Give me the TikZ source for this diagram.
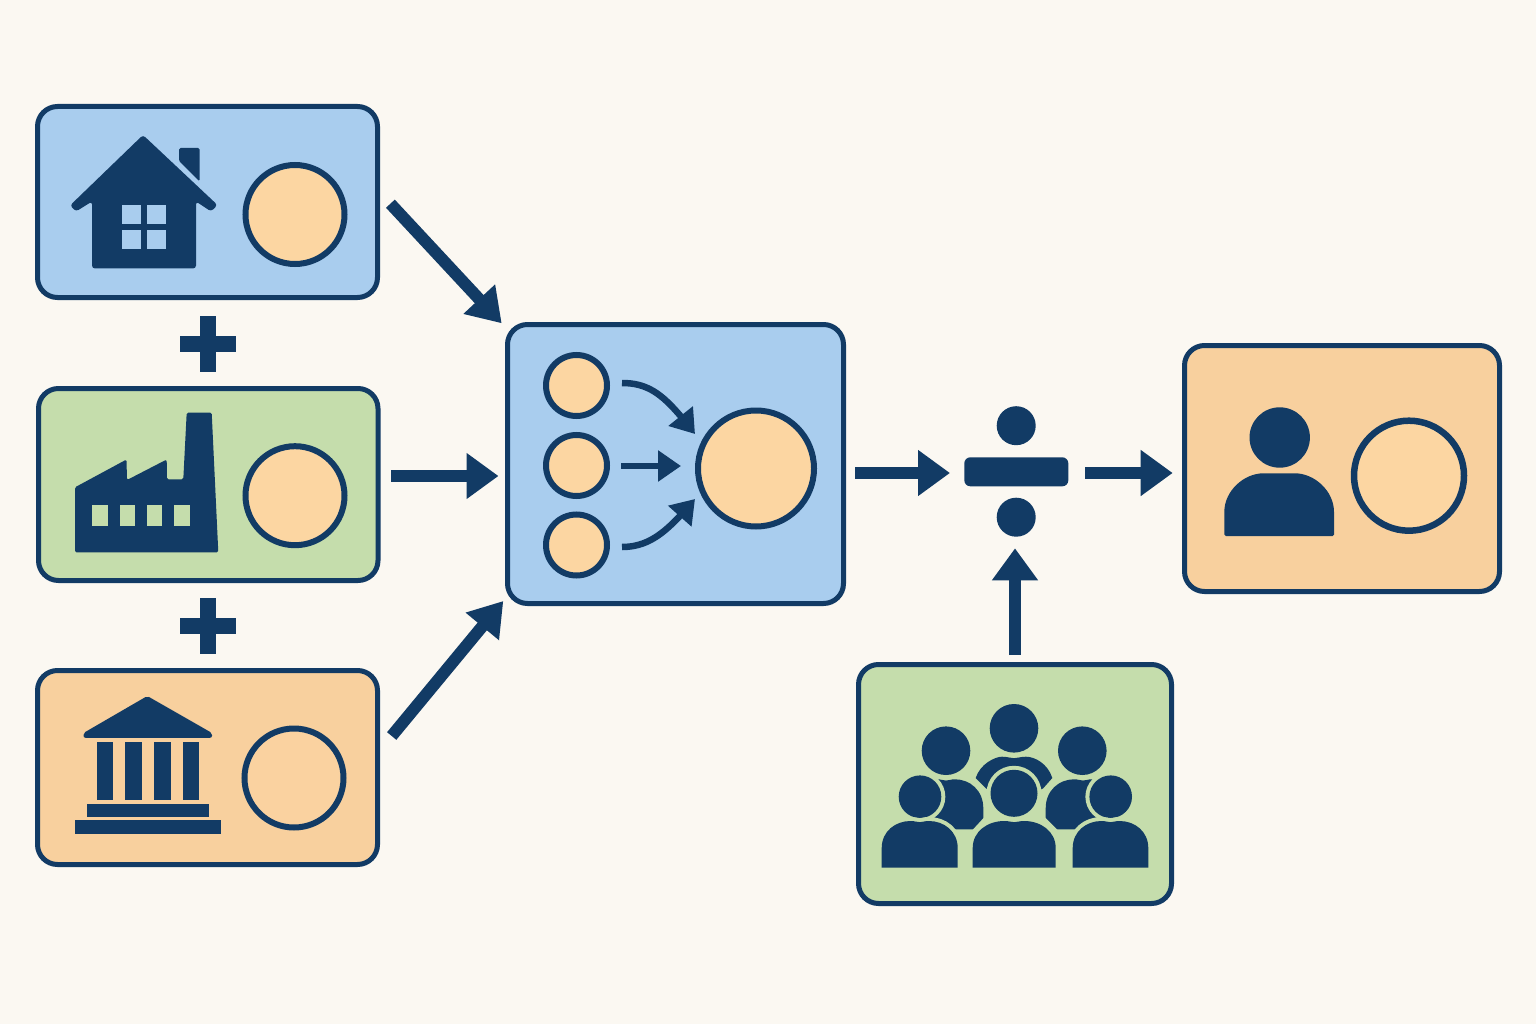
\documentclass[tikz,border=0pt]{standalone}
\usetikzlibrary{arrows.meta,bending}
\definecolor{bgc}{HTML}{FBF8F2}
\definecolor{navy}{HTML}{123B65}
\definecolor{bluec}{HTML}{A9CDEE}
\definecolor{greenc}{HTML}{C5DDAC}
\definecolor{orangec}{HTML}{F8D09E}
\definecolor{discc}{HTML}{FCD6A2}
\tikzset{
  panel/.style={draw=navy,line width=5pt,rounded corners=20pt,inner sep=0pt,outer sep=0pt},
  disc/.style={circle,draw=navy,line width=6pt,fill=discc,inner sep=0pt,outer sep=0pt},
  dotnode/.style={circle,fill=navy,inner sep=0pt,outer sep=0pt},
  bigarrow/.style={draw=navy,line width=12.5pt,-{Triangle[length=32pt,width=44pt]}},
  diagarrow/.style={draw=navy,line width=12pt,-{Triangle[length=33pt,width=41pt]}},
  smallarrow/.style={draw=navy,line width=6.5pt,-{Triangle[length=23pt,width=30pt,flex=1]}},
  icon/.style={fill=navy,draw=none},
  halo/.style={fill=navy,preaction={draw=greenc,line width=8pt}}
}
\newcommand{\bodyshape}{(0,1) -- (0,.58) .. controls (0,.22) and (.18,0) .. (.38,0) .. controls (.44,0) and (.46,.025) .. (.5,.025) .. controls (.54,.025) and (.56,0) .. (.62,0) .. controls (.82,0) and (1,.22) .. (1,.58) -- (1,1) -- cycle}
\begin{document}
\begin{tikzpicture}[x=1pt,y=-1pt]
\useasboundingbox (0,0) rectangle (1536,1024);
\fill[bgc] (0,0) rectangle (1536,1024);

% panels
\node[panel,fill=bluec,minimum width=340pt,minimum height=191pt] (boxH) at (207.5,202) {};
\node[panel,fill=greenc,minimum width=339.5pt,minimum height=192pt] (boxF) at (208.25,484.5) {};
\node[panel,fill=orangec,minimum width=340pt,minimum height=194pt] (boxB) at (207.5,767.5) {};
\node[panel,fill=bluec,minimum width=336pt,minimum height=279pt] (boxC) at (675.5,464) {};
\node[panel,fill=orangec,minimum width=315pt,minimum height=246pt] (boxR) at (1342,468.5) {};
\node[panel,fill=greenc,minimum width=313pt,minimum height=239pt] (boxG) at (1015,784) {};

% discs
\node[disc,minimum size=99pt] (dH) at (295,214.5) {};
\node[disc,minimum size=99pt] (dF) at (295,495.7) {};
\node[disc,fill=orangec!60!discc,minimum size=99pt] (dB) at (294,778) {};
\node[disc,minimum size=61pt] (c1) at (576.5,385.5) {};
\node[disc,minimum size=61pt] (c2) at (576.5,465.5) {};
\node[disc,minimum size=61pt] (c3) at (576.5,545) {};
\node[disc,minimum size=116pt] (big) at (756,468.5) {};
\node[disc,line width=6.5pt,minimum size=110pt] (dR) at (1409,475.7) {};

% house
\fill[icon,rounded corners=3pt] (143,135) -- (70,205.5) -- (76,211.5) -- (92,201.5) -- (92,268.5) -- (196,268.5) -- (196,201.5) -- (211,211.5) -- (217.5,205) -- cycle;
\fill[icon,rounded corners=1.5pt] (179,148) -- (199.5,148) -- (199.5,181.5) -- (179,161) -- cycle;
\fill[bluec] (121.7,205) rectangle (140.7,224.3);
\fill[bluec] (146.7,205) rectangle (165.7,224.3);
\fill[bluec] (121.7,230) rectangle (140.7,249.3);
\fill[bluec] (146.7,230) rectangle (165.7,249.3);

% factory
\fill[icon,rounded corners=1.5pt] (75,487.3) -- (126.5,459.5) -- (127,480) -- (166.7,459.5) -- (167,479.3) -- (183.3,479.3) -- (186.7,412.7) -- (211.7,412.7) -- (218.3,552.3) -- (75,552.3) -- cycle;
\foreach \wx in {92.3,119.7,147,174.3}
  \fill[greenc] (\wx,505.3) rectangle +(15.4,20.7);

% bank
\fill[icon,rounded corners=2pt] (147.3,696) -- (83.5,733) -- (83.5,737.8) -- (212,737.8) -- (212,733) -- cycle;
\foreach \cx in {96.7,125.3,154,182.7}
  \fill[icon] (\cx,742) rectangle +(16.6,58);
\fill[icon] (87.3,804) rectangle (208.7,816.7);
\fill[icon] (75,820.3) rectangle (220.7,834);

% plus signs
\fill[icon] (180,336) rectangle (236,352);
\fill[icon] (200,316) rectangle (216,372);
\fill[icon] (180,618) rectangle (236,634);
\fill[icon] (200,598) rectangle (216,654);

% division
\node[dotnode,minimum size=39pt] (dotT) at (1016.2,425.7) {};
\node[dotnode,minimum size=39pt] (dotB) at (1016.2,517.2) {};
\node[fill=navy,rounded corners=6pt,inner sep=0pt,outer sep=0pt,minimum width=104pt,minimum height=29pt] (bar) at (1016.3,471.8) {};

% single person
\fill[icon] (1279.7,437.5) circle (30.2);
\begin{scope}[shift={(1224.3,473.3)},x=109.7pt,y=-62.7pt]
  \fill[icon,rounded corners=1.5pt] (0,1) -- (0,.64) .. controls (0,.28) and (.18,0) .. (.37,0) -- (.63,0) .. controls (.82,0) and (1,.28) .. (1,.64) -- (1,1) -- cycle;
\end{scope}

% crowd: back row
\fill[icon] (1014,728.3) circle (24.3);
\fill[icon] (946,750.7) circle (24.3);
\fill[icon] (1082.3,750.7) circle (24.3);
\fill[icon] (975.7,778) .. controls (980,764) and (995,756.7) .. (1002,756.7) .. controls (1008,756.7) and (1010,758.2) .. (1014,758.2) .. controls (1018,758.2) and (1020,756.7) .. (1026,756.7) .. controls (1035,756.7) and (1048,764) .. (1052.3,778) -- (1043,788.5) -- (1014,800) -- (986,788.5) -- cycle;
\begin{scope}[shift={(908.7,779.3)},x=74.6pt,y=-50pt]
  \fill[icon] \bodyshape;
\end{scope}
\begin{scope}[shift={(1045.7,779.3)},x=74.6pt,y=-50pt]
  \fill[icon] \bodyshape;
\end{scope}
\fill[greenc] (984,817.5) -- (972.5,830) -- (984,830) -- cycle;
\fill[greenc] (1045.2,817.5) -- (1057.5,830) -- (1045.2,830) -- cycle;
% crowd: front row
\path[halo] (920,796.7) circle (21.3);
\path[halo] (1014,793.3) circle (23.5);
\path[halo] (1110.7,796.7) circle (21.3);
\begin{scope}[shift={(881.7,821)},x=76pt,y=-46.7pt]
  \path[halo] \bodyshape;
\end{scope}
\begin{scope}[shift={(972.7,821)},x=83pt,y=-46.7pt]
  \path[halo] \bodyshape;
\end{scope}
\begin{scope}[shift={(1072.7,821)},x=75.6pt,y=-46.7pt]
  \path[halo] \bodyshape;
\end{scope}

% connectors
\draw[diagarrow] ([shift={(12.9,1.7)}]boxH.east) -- ([shift={(-5.8,-1.2)}]boxC.north west);
\draw[bigarrow] ([shift={(13,-8.5)}]boxF.east) -- ([shift={(-9,12)}]boxC.west);
\draw[diagarrow] ([shift={(14.2,-31.5)}]boxB.east) -- ([shift={(-4.2,-2.5)}]boxC.south west);
\draw[bigarrow] ([shift={(11.5,9)}]boxC.east) -- ([shift={(-14.3,1.2)}]bar.west);
\draw[bigarrow] ([shift={(16.7,1.2)}]bar.east) -- ([shift={(-11.8,4.5)}]boxR.west);
\draw[bigarrow] ([shift={(0,-9.5)}]boxG.north) -- ([shift={(-1.2,11.6)}]dotB.south);
\draw[smallarrow] ([shift={(15,-2.5)}]c1.east) .. controls +(30,0) and +(-28,-36) .. ([shift={(-3,-34.5)}]big.west);
\draw[smallarrow] ([shift={(14,.5)}]c2.east) -- ([shift={(-17,-2.5)}]big.west);
\draw[smallarrow] ([shift={(15,2)}]c3.east) .. controls +(30,0) and +(-25,29) .. ([shift={(-3,30.5)}]big.west);
\end{tikzpicture}
\end{document}
